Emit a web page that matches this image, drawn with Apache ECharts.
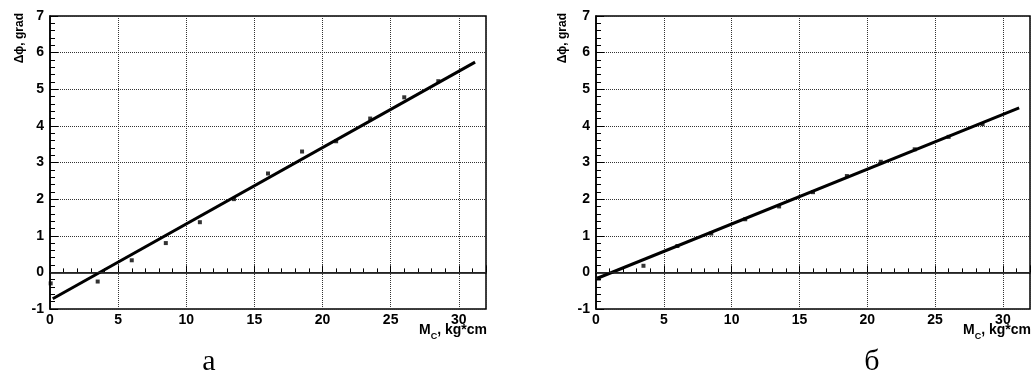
<!DOCTYPE html>
<html>
<head>
<meta charset="utf-8">
<script src="https://cdn.jsdelivr.net/npm/echarts@6/dist/echarts.min.js"></script>
<style>
html,body{margin:0;padding:0;background:#fff;}
#c{width:1032px;height:378px;}
</style>
</head>
<body>
<div id="c"></div>
<script>
// ---- data ----
var xTicks = [0, 5, 10, 15, 20, 25, 30];
var yTicks = [-1, 0, 1, 2, 3, 4, 5, 6, 7];

var pointsAx = [0.05, 3.5, 6, 8.5, 11, 13.5, 16, 18.5, 21, 23.5, 26, 28.5];
var pointsAy = [-0.30, -0.25, 0.33, 0.80, 1.37, 2.00, 2.70, 3.30, 3.58, 4.20, 4.78, 5.22];
var fitAx = [0.2, 31.2];
var fitAy = [-0.72, 5.74];

var pointsBx = [0.2, 3.5, 6, 8.5, 11, 13.5, 16, 18.5, 21, 23.5, 26, 28.5];
var pointsBy = [-0.17, 0.18, 0.72, 1.06, 1.45, 1.80, 2.19, 2.63, 3.02, 3.36, 3.70, 4.05];
var fitBx = [0.1, 31.2];
var fitBy = [-0.16, 4.49];

var yTitle = 'Δϕ, grad';
var panelLabels = ['а', 'б'];

function pairs(xs, ys) { return xs.map(function (x, i) { return [x, ys[i]]; }); }

var labelFont = { color: '#000', fontFamily: 'Liberation Sans', fontWeight: 'bold', fontSize: 14 };

function xAxisCfg(gi) {
  return {
    gridIndex: gi, type: 'value', min: 0, max: 32, interval: 5,
    axisLine: { show: true, lineStyle: { color: '#000', width: 1.5 } },
    axisTick: { show: true, inside: true, length: 7, lineStyle: { color: '#000', width: 1 } },
    minorTick: { show: true, splitNumber: 5, length: 4, lineStyle: { color: '#000', width: 1 } },
    axisLabel: Object.assign({ margin: 4, showMaxLabel: false, formatter: function (v) { return xTicks.indexOf(v) >= 0 ? String(v) : ''; } }, labelFont),
    splitLine: { show: true, lineStyle: { color: '#333', width: 1, type: [1, 1] } }
  };
}
function yAxisCfg(gi) {
  return {
    gridIndex: gi, type: 'value', min: -1, max: 7, interval: 1,
    axisLine: { show: true, lineStyle: { color: '#000', width: 1.5 } },
    axisTick: { show: true, inside: true, length: 8, lineStyle: { color: '#000', width: 1 } },
    minorTick: { show: true, splitNumber: 5, length: 5, lineStyle: { color: '#000', width: 1 } },
    axisLabel: Object.assign({ margin: 6, formatter: function (v) { return yTicks.indexOf(v) >= 0 ? String(v) : ''; } }, labelFont),
    splitLine: { show: true, lineStyle: { color: '#333', width: 1, type: [1, 1] } }
  };
}

function seriesFor(gi, px, py, fx, fy) {
  return [
    {
      type: 'line', xAxisIndex: gi, yAxisIndex: gi, data: pairs(fx, fy),
      showSymbol: false, silent: true, animation: false,
      lineStyle: { color: '#000', width: 3 },
      markLine: {
        silent: true, symbol: ['none', 'none'], label: { show: false },
        lineStyle: { color: '#222', width: 1, type: 'solid' },
        data: [{ yAxis: 0 }], animation: false
      }
    },
    {
      type: 'scatter', xAxisIndex: gi, yAxisIndex: gi, data: pairs(px, py),
      symbol: 'rect', symbolSize: 4, itemStyle: { color: '#000' }, animation: false
    }
  ];
}

function xTitle(right) {
  return {
    type: 'text', right: right, top: 323,
    style: {
      text: '{a|M}{s|C}{a|, kg*cm}',
      rich: {
        a: { fontFamily: 'Liberation Sans', fontWeight: 'bold', fontSize: 14, fill: '#000', lineHeight: 16, verticalAlign: 'top' },
        s: { fontFamily: 'Liberation Sans', fontWeight: 'bold', fontSize: 9, fill: '#000', lineHeight: 9, verticalAlign: 'top', padding: [9, 0, 0, 0] }
      }
    }
  };
}

var chart = echarts.init(document.getElementById('c'), null, { renderer: 'canvas' });
chart.setOption({
  backgroundColor: '#fff',
  animation: false,
  grid: [
    { left: 50, top: 16, width: 436, height: 293, show: true, borderColor: '#000', borderWidth: 1.5, backgroundColor: 'transparent' },
    { left: 596, top: 16, width: 434, height: 293, show: true, borderColor: '#000', borderWidth: 1.5, backgroundColor: 'transparent' }
  ],
  xAxis: [xAxisCfg(0), xAxisCfg(1)],
  yAxis: [yAxisCfg(0), yAxisCfg(1)],
  series: seriesFor(0, pointsAx, pointsAy, fitAx, fitAy).concat(seriesFor(1, pointsBx, pointsBy, fitBx, fitBy)),
  graphic: [
    { type: 'text', x: 14, y: 13, rotation: Math.PI / 2, style: { text: yTitle, font: 'bold 12px "Liberation Sans"', fill: '#000', align: 'right', verticalAlign: 'top' } },
    { type: 'text', x: 557, y: 13, rotation: Math.PI / 2, style: { text: yTitle, font: 'bold 12px "Liberation Sans"', fill: '#000', align: 'right', verticalAlign: 'top' } },
    xTitle(545),
    xTitle(1),
    { type: 'text', x: 209, y: 377, style: { text: panelLabels[0], font: '30px "Liberation Serif"', fill: '#000', align: 'center', verticalAlign: 'bottom' } },
    { type: 'text', x: 872, y: 377, style: { text: panelLabels[1], font: '30px "Liberation Serif"', fill: '#000', align: 'center', verticalAlign: 'bottom' } }
  ]
});
</script>
</body>
</html>
